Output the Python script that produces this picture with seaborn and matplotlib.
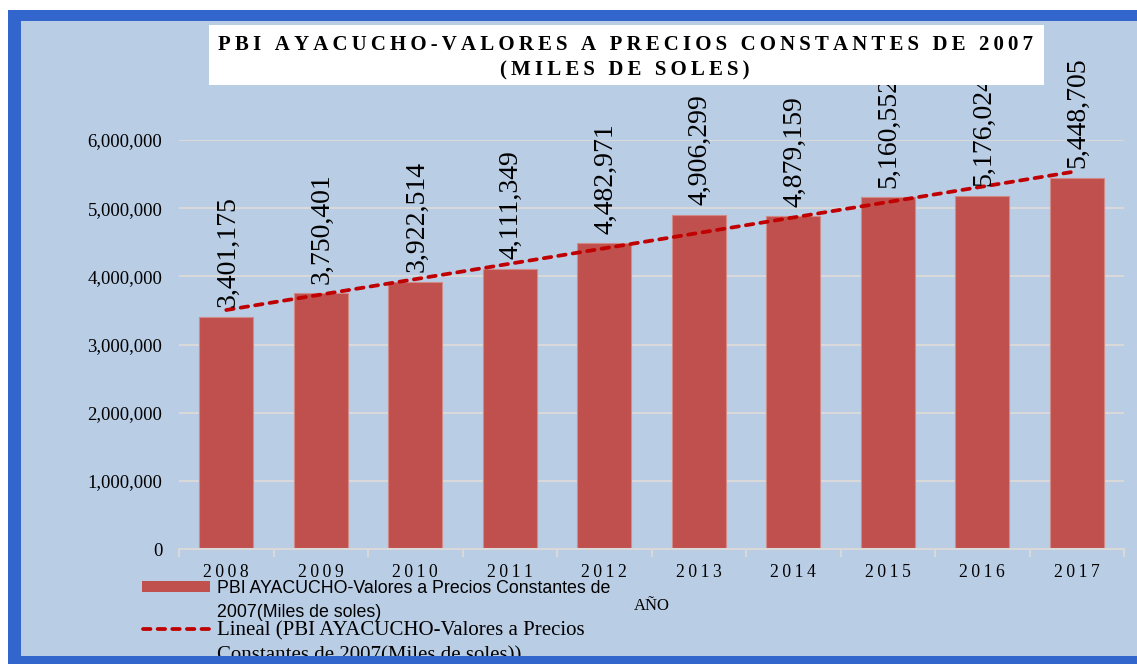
import numpy as np
import pandas as pd
import matplotlib
matplotlib.use("Agg")
import matplotlib.pyplot as plt
import seaborn as sns
from matplotlib.patches import Rectangle
from matplotlib.lines import Line2D

# datos
years = ["2008", "2009", "2010", "2011", "2012", "2013", "2014", "2015", "2016", "2017"]
pbi = [3401175, 3750401, 3922514, 4111349, 4482971, 4906299, 4879159, 5160552, 5176024, 5448705]
y_ticks = [0, 1000000, 2000000, 3000000, 4000000, 5000000, 6000000]

title_1 = "PBI AYACUCHO-VALORES A PRECIOS CONSTANTES DE 2007"
title_2 = "(MILES DE SOLES)"
legend_bar = "PBI AYACUCHO-Valores a Precios Constantes de\n2007(Miles de soles)"
legend_line = "Lineal (PBI AYACUCHO-Valores a Precios\nConstantes de 2007(Miles de soles))"

df = pd.DataFrame({"anio": years, "pbi": pbi})

W, H = 1137, 664
BAR = "#C0504D"
TREND = "#C00000"
BG = "#B9CDE5"
BORDER = "#3366CC"
GRID = "#D9D9D9"
THIN = "\u2009"
DASH = (0, (2.0, 1.9))

plt.rcParams["font.family"] = ["Liberation Serif", "DejaVu Serif"]

fig = plt.figure(figsize=(W / 100, H / 100), dpi=100, facecolor="white")


def fx(px):
    return px / W


def fy(py):
    return 1 - py / H


# marco azul y fondo
fig.add_artist(Rectangle((fx(8), 0), 1, fy(10), transform=fig.transFigure,
                         facecolor=BORDER, edgecolor="none", zorder=-20))
fig.add_artist(Rectangle((fx(21), fy(656)), 1, fy(21) - fy(656), transform=fig.transFigure,
                         facecolor=BG, edgecolor="none", zorder=-19))

ax = fig.add_axes([fx(179), fy(549), fx(1124) - fx(179), fy(140) - fy(549)])
ax.set_facecolor(BG)
ax.patch.set_alpha(0)

sns.barplot(data=df, x="anio", y="pbi", color=BAR, saturation=1, width=0.57,
            edgecolor="#D08A88", linewidth=0.8, ax=ax, zorder=3)

# linea de tendencia lineal
xs = np.arange(len(years))
coef = np.polyfit(xs, pbi, 1)
ax.plot(xs, np.polyval(coef, xs), color=TREND, lw=2.7, linestyle=DASH,
        dash_capstyle="round", zorder=4)

for i, v in enumerate(pbi):
    ax.annotate(f"{v:,}", (i, v), xytext=(1, 7), textcoords="offset points",
                rotation=90, ha="center", va="bottom", fontsize=20, zorder=5,
                annotation_clip=False)

ax.set_ylim(0, 6000000)
ax.set_xlim(-0.5, len(years) - 0.5)
ax.set_yticks(y_ticks)
ax.set_yticklabels([f"{t:,}" for t in y_ticks], fontsize=13.5)
ax.set_xticks(xs)
ax.set_xticklabels([THIN.join(y) for y in years], fontsize=12.7)
ax.set_xticks(np.arange(-0.5, len(years), 1), minor=True)
ax.tick_params(axis="y", length=0, pad=12)
ax.tick_params(axis="x", which="major", length=0, pad=11)
ax.tick_params(axis="x", which="minor", length=6, width=1.5, color=GRID)
ax.yaxis.grid(True, color=GRID, lw=1.5, zorder=0)
ax.set_axisbelow(True)
for s in ["top", "left", "right"]:
    ax.spines[s].set_visible(False)
ax.spines["bottom"].set_color(GRID)
ax.spines["bottom"].set_linewidth(1.5)
ax.spines["bottom"].set_zorder(6)
ax.set_ylabel("")
ax.set_xlabel("AÑO", fontsize=12, labelpad=12)

# caja blanca del titulo
fig.add_artist(Rectangle((fx(209), fy(85)), fx(1044) - fx(209), fy(25) - fy(85),
                         transform=fig.transFigure, facecolor="white",
                         edgecolor="none", zorder=10))
fig.text(fx(625), fy(45), THIN.join(title_1), ha="center", va="center",
         fontsize=15, fontweight="bold", zorder=11)
fig.text(fx(625), fy(70), THIN.join(title_2), ha="center", va="center",
         fontsize=15, fontweight="bold", zorder=11)

# leyenda
fig.add_artist(Rectangle((fx(142), fy(592)), fx(210) - fx(142), fy(581) - fy(592),
                         transform=fig.transFigure, facecolor=BAR,
                         edgecolor="none", zorder=8))
fig.text(fx(217), fy(580), legend_bar, ha="left", va="top", fontsize=12.8,
         family=["Liberation Sans", "DejaVu Sans"], linespacing=1.55, zorder=8)
fig.add_artist(Line2D([fx(143), fx(209)], [fy(629), fy(629)], transform=fig.transFigure,
                      color=TREND, lw=2.7, linestyle=DASH,
                      dash_capstyle="round", zorder=8))
fig.text(fx(217), fy(621), legend_line, ha="left", va="top", fontsize=15,
         linespacing=1.45, zorder=8)

# borde inferior azul
fig.add_artist(Rectangle((fx(8), 0), 1, fy(656), transform=fig.transFigure,
                         facecolor=BORDER, edgecolor="none", zorder=20))

fig.savefig("out.png", dpi=100, facecolor=fig.get_facecolor())
